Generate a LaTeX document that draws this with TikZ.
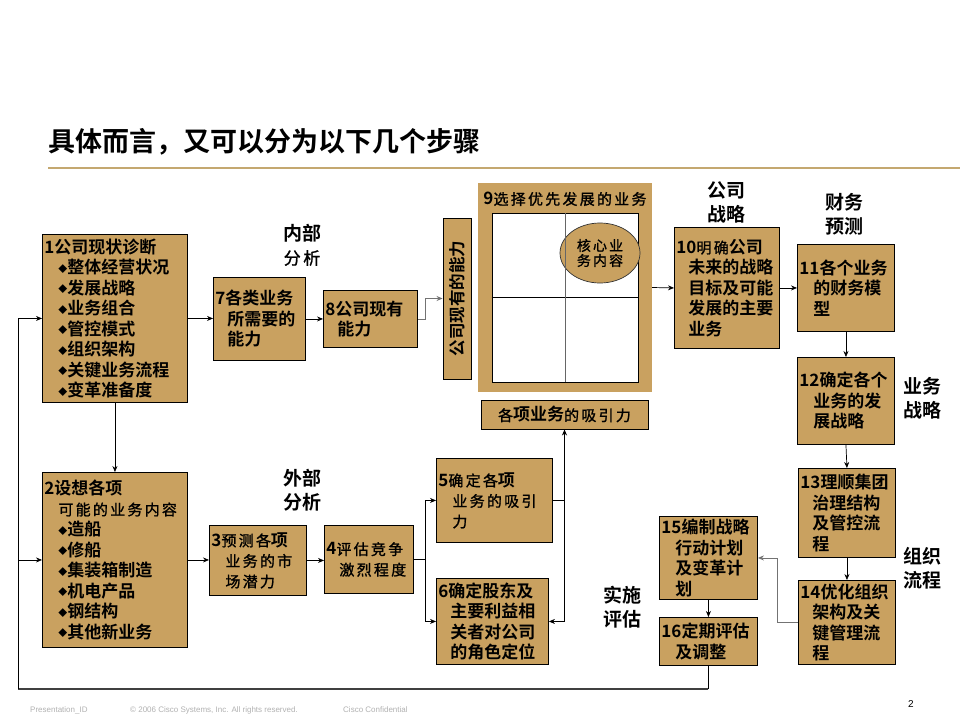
\documentclass[tikz,border=0pt]{standalone}
\usepackage{fontspec}
\usepackage{xcolor}
\usepackage{tikz}
\usetikzlibrary{shapes,arrows,arrows.meta,positioning,calc}

\setmainfont{Noto Sans CJK SC Bold}
\newfontfamily\kai{Noto Sans CJK SC}[LetterSpace=15, FakeBold=1.2]
\newfontfamily\footfont{Liberation Sans}
\definecolor{boxtan}{RGB}{201,161,96}
\definecolor{ruletan}{RGB}{196,168,112}
\newcommand\ind{\hspace*{12pt}}
\newcommand\bul{\hspace*{14pt}\raisebox{1.5pt}{\fontsize{9}{9}\selectfont ◆}}
\newcommand\kt[1]{{\kai\fontsize{15}{15}\selectfont #1}}

\begin{document}
\begin{tikzpicture}[x=1pt, y=-1pt,
    stepbox/.style={rectangle, draw=black, line width=0.9pt, fill=boxtan, inner sep=2pt, align=left, anchor=north west, font=\fontsize{17}{20.5}\selectfont},
    arrow/.style={-{Stealth[length=6pt,width=5pt]}, line width=0.7pt},
    grayarrow/.style={arrow, draw=black!55, line width=0.9pt},
    tag/.style={align=center, inner sep=0pt, font=\fontsize{19}{24}\selectfont}]

\fill[white] (0,0) rectangle (960,720);
\useasboundingbox (0,0) rectangle (960,720);

% Title and rule
\node[anchor=west, inner sep=0pt, font=\fontsize{27}{30}\selectfont] (title) at (48,142) {具体而言，又可以分为以下几个步骤};
\coordinate (rulestart) at (48,168);
\draw[ruletan, line width=1.2pt] (rulestart) -- (960,168);

% Left column
\node[stepbox, text width=141pt, minimum height=168pt] (b1) at (42,234)
    {1公司现状诊断\\\bul 整体经营状况\\\bul 发展战略\\\bul 业务组合\\\bul 管控模式\\\bul 组织架构\\\bul 关键业务流程\\\bul 变革准备度};
\node[stepbox, text width=141pt, minimum height=175pt] (b2) at (42,472)
    {2设想各项\\\hspace*{14pt}\kt{可能的业务内容}\\\bul 造船\\\bul 修船\\\bul 集装箱制造\\\bul 机电产品\\\bul 钢结构\\\bul 其他新业务};

% Internal analysis
\node[stepbox, text width=88pt, minimum height=83pt] (b7) at (213,277) {7各类业务\\\ind 所需要的\\\ind 能力};
\node[stepbox, text width=90pt, minimum height=57pt] (b8) at (323,290) {8公司现有\\\ind 能力};
\node[tag] (intlabel) at (302,245) {内部\\{\kai\fontsize{17}{17}\selectfont 分析}};

% External analysis
\node[stepbox, text width=93pt, minimum height=70pt] (b3) at (209,525) {3\kt{预测各}项\\\hspace*{14pt}\kt{业务的市}\\\hspace*{14pt}\kt{场潜力}};
\node[stepbox, text width=85pt, minimum height=68pt] (b4) at (324,525) {4\kt{评估竞争}\\\hspace*{13pt}\kt{激烈程度}};
\node[tag] (extlabel) at (302,490) {外部\\分析};

\node[stepbox, text width=112pt, minimum height=84pt] (b5) at (436,458) {5\kt{确定各}项\\\hspace*{14pt}\kt{业务的吸引}\\\hspace*{14pt}\kt{力}};
\node[stepbox, text width=108pt, minimum height=86pt] (b6) at (436,578) {6确定股东及\\\ind 主要利益相\\\ind 关者对公司\\\ind 的角色定位};
\node[stepbox, anchor=center, align=center, minimum width=167pt, minimum height=29pt] (attr) at (564.5,414.5) {\kt{各}项业务\kt{的吸引力}};

% Capability bar and matrix
\node[stepbox, anchor=center, minimum width=28pt, minimum height=161pt, inner sep=0pt] (vbox) at (457,298.5)
    {\rotatebox{90}{\fontsize{16.5}{16.5}\selectfont 公司现有的能力}};
\node[rectangle, fill=boxtan, minimum width=174pt, minimum height=209pt] (b9) at (565,287.5) {};
\node[rectangle, draw=black, line width=0.8pt, fill=white, minimum width=146pt, minimum height=169pt] (grid) at (565,297.5) {};
\node[inner sep=0pt] (b9title) at (565,199) {\fontsize{17}{17}\selectfont 9\kt{选择优先发展的业务}};
\draw[line width=0.8pt] (grid.west) -- (grid.east);
\node[ellipse, draw=black!80, line width=0.7pt, fill=boxtan, minimum width=80pt, minimum height=60pt, inner sep=0pt, align=center,
    font=\kai\fontsize{14}{15}\selectfont] (core) at (600,253) {核心业\\务内容};
\draw[line width=0.8pt, black!60] (grid.north) -- (grid.south);

% Strategy column
\node[stepbox, text width=101pt, minimum height=121pt] (b10) at (674,227) {10\kt{明确}公司\\\ind 未来的战略\\\ind 目标及可能\\\ind 发展的主要\\\ind 业务};
\node[tag] (corplabel) at (726,202) {公司\\战略};
\node[stepbox, text width=93pt, minimum height=87pt] (b11) at (797,244) {11各个业务\\\hspace*{14pt}的财务模\\\hspace*{14pt}型};
\node[tag] (finlabel) at (844,214) {财务\\预测};
\node[stepbox, text width=93pt, minimum height=87pt] (b12) at (797,357) {12确定各个\\\hspace*{14pt}业务的发\\\hspace*{14pt}展战略};
\node[tag] (buslabel) at (922,398) {业务\\战略};
\node[stepbox, text width=93pt, minimum height=89pt] (b13) at (798,468) {13理顺集团\\\ind 治理结构\\\ind 及管控流\\\ind 程};
\node[stepbox, text width=93pt, minimum height=84pt] (b14) at (798,580) {14优化组织\\\ind 架构及关\\\ind 键管理流\\\ind 程};
\node[tag] (orglabel) at (922,568) {组织\\流程};
\node[stepbox, text width=94pt, minimum height=83pt] (b15) at (659,516) {15编制战略\\\hspace*{14pt}行动计划\\\hspace*{14pt}及变革计\\\hspace*{14pt}划};
\node[stepbox, text width=94pt, minimum height=48pt] (b16) at (659,617) {16定期评估\\\hspace*{14pt}及调整};
\node[tag] (implabel) at (622,607) {实施\\评估};

% Connectors
\draw[arrow] (b1.south) -- (b2.north);
\draw[arrow] (b1.east) -- (b1.east -| b7.west);
\draw[arrow] (b7.east) -- (b7.east -| b8.west);
\draw[grayarrow] (b8.east) -- ++(8,0) |- (vbox.west);
\draw[arrow] (b9.east) -- (b10.west);
\draw[arrow] (b10.east) -- (b10.east -| b11.west);
\draw[arrow] (b11.south) -- (b12.north);
\draw[arrow] (b12.south) -- (b13.north);
\draw[arrow] (b13.south) -- (b14.north);
\draw[grayarrow] (b14.west) -- ++(-21,0) |- (b15.east);
\draw[arrow] (b15.south) -- (b16.north);

\draw[arrow] (b2.east) -- (b2.east -| b3.west);
\draw[arrow] (b3.east) -- (b3.east -| b4.west);
\coordinate (split) at ($(b4.east)+(11,0)$);
\draw[line width=0.7pt] (b4.east) -- (split);
\draw[arrow] (split) |- (b5.west);
\draw[arrow] (split) |- (b6.west);
\coordinate (jn) at (attr.south |- b6.east);
\draw[line width=0.7pt] (b5.east) -- (b5.east -| jn);
\draw[arrow] (jn) -- (attr.south);
\draw[arrow] (jn) -- (b6.east);

% Feedback loop
\coordinate (fb) at (18,689);
\draw[line width=0.7pt] (b16.south) -- (b16.south |- fb);
\draw[line width=2pt, black!75] (b16.south |- fb) -- (fb);
\draw[arrow] (fb) |- (b1.west);
\draw[arrow] (fb |- b2.west) -- (b2.west);

% Footer
\node[anchor=west, inner sep=0pt, text=black!30, font=\footfont\fontsize{8}{8}\selectfont] (pid) at (30,710) {Presentation\_ID};
\node[anchor=west, inner sep=0pt, text=black!30, font=\footfont\fontsize{8}{8}\selectfont] (copy) at (130,710) {© 2006 Cisco Systems, Inc. All rights reserved.};
\node[anchor=west, inner sep=0pt, text=black!30, font=\footfont\fontsize{8}{8}\selectfont] (conf) at (343,710) {Cisco Confidential};
\node[inner sep=0pt, font=\footfont\fontsize{10}{10}\selectfont] (pg) at (911,704) {2};

\end{tikzpicture}
\end{document}
